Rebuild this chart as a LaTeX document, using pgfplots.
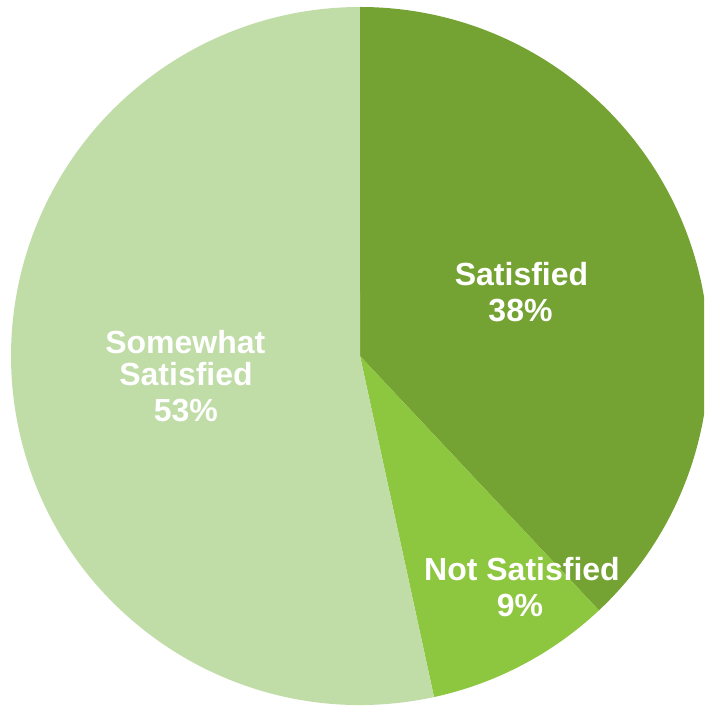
\documentclass[border=0pt]{standalone}
\usepackage{pgfplots}
\usepackage{pgfplotstable}
\pgfplotsset{compat=1.18}
\usepackage{fontspec}
\setmainfont{Liberation Sans}
\definecolor{satis}{RGB}{117,163,51}
\definecolor{notsat}{RGB}{141,198,63}
\definecolor{somew}{RGB}{192,220,167}
\pgfplotstableread{
label value
Satisfied 38.0
NotSatisfied 8.6
Somewhat 53.4
}\piedata
\pgfplotstablegetelem{0}{value}\of\piedata \let\vA\pgfplotsretval
\pgfplotstablegetelem{1}{value}\of\piedata \let\vB\pgfplotsretval
\pgfplotstablegetelem{2}{value}\of\piedata \let\vC\pgfplotsretval
\pgfmathsetmacro{\tot}{\vA+\vB+\vC}
\pgfmathsetmacro{\aA}{90}
\pgfmathsetmacro{\aB}{90-360*(\vA/\tot)}
\pgfmathsetmacro{\aC}{\aB-360*(\vB/\tot)}
\pgfmathsetmacro{\aD}{\aC-360*(\vC/\tot)}
\def\R{349}
\begin{document}
\begin{tikzpicture}
\begin{axis}[
  x=1pt, y=1pt,
  xmin=-360, xmax=344, ymin=-350, ymax=356,
  hide axis, clip=true, clip bounding box=upper bound,
]
\path (rel axis cs:0,0) rectangle (rel axis cs:1,1);
\fill[satis] (axis cs:0,0) -- (axis cs:{\R*cos(\aA)},{\R*sin(\aA)}) arc[start angle=\aA, end angle=\aB, radius=\R pt] -- cycle;
\fill[notsat] (axis cs:0,0) -- (axis cs:{\R*cos(\aB)},{\R*sin(\aB)}) arc[start angle=\aB, end angle=\aC, radius=\R pt] -- cycle;
\fill[somew] (axis cs:0,0) -- (axis cs:{\R*cos(\aC)},{\R*sin(\aC)}) arc[start angle=\aC, end angle=\aD, radius=\R pt] -- cycle;
\begin{scope}[every node/.style={text=white, font=\fontsize{32}{36}\selectfont\bfseries, anchor=base, inner sep=0pt}]
\node at (axis cs:161.5,70) {Satisfied};
\node at (axis cs:160.5,34) {38\%};
\node at (axis cs:162,-225) {Not Satisfied};
\node at (axis cs:160,-260.5) {9\%};
\node at (axis cs:-174.7,2.5) {Somewhat};
\node at (axis cs:-174,-29.5) {Satisfied};
\node at (axis cs:-174.2,-66) {53\%};
\end{scope}
\end{axis}
\end{tikzpicture}
\end{document}
